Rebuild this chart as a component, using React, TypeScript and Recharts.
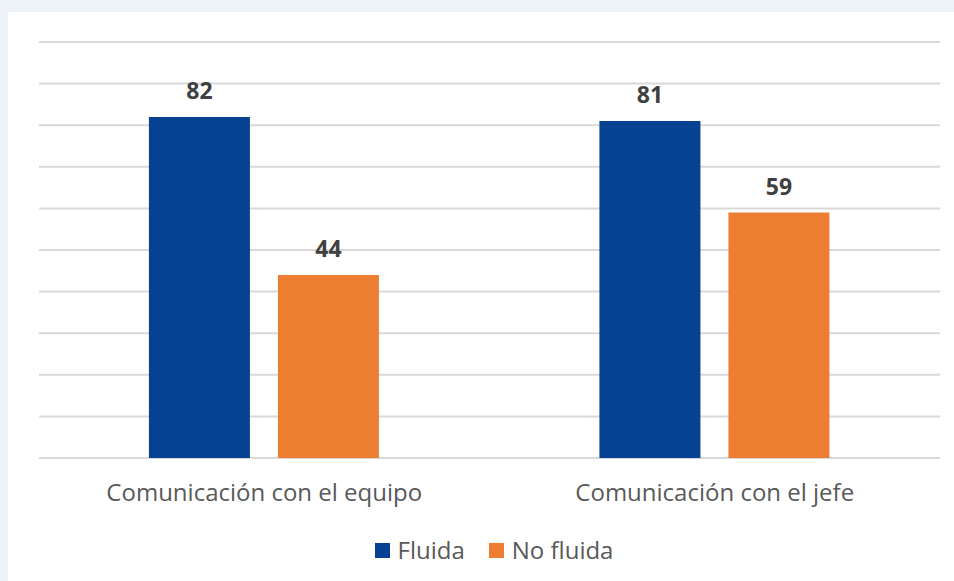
import { BarChart, Bar, XAxis, YAxis, CartesianGrid, Legend, LabelList } from "recharts"

const categories = ["Comunicación con el equipo", "Comunicación con el jefe"]
const fluida = [82, 81]
const noFluida = [44, 59]
const yTicks = [0, 10, 20, 30, 40, 50, 60, 70, 80, 90, 100]

const data = categories.map((name, i) => ({ name, fluida: fluida[i], noFluida: noFluida[i] }))

const BLUE = "#074191"
const ORANGE = "#ED7D31"
const FONT = "'Open Sans', sans-serif"

function LegendContent(props: any) {
  const items = props.payload || []
  return (
    <div style={{ display: "flex", justifyContent: "center", alignItems: "center", paddingTop: 17, paddingLeft: 9, fontFamily: FONT, fontSize: 24, color: "#595959", lineHeight: "30px" }}>
      {items.map((it: any, i: number) => (
        <div key={i} style={{ display: "flex", alignItems: "center", marginLeft: i ? 24 : 0 }}>
          <span style={{ width: 15, height: 15, background: it.color, display: "inline-block", marginRight: 8 }} />
          <span>{it.value}</span>
        </div>
      ))}
    </div>
  )
}

export default function App() {
  return (
    <div style={{ position: "fixed", left: 0, top: 0, width: 954, height: 581, background: "#eef3fa" }}>
      <div style={{ position: "absolute", left: 8, top: 12, width: 946, height: 569, background: "#ffffff" }} />
      <div style={{ position: "absolute", left: 0, top: 0 }}>
        <BarChart
          width={954}
          height={581}
          data={data}
          margin={{ top: 42, right: 14, left: 39, bottom: 10 }}
          barCategoryGap="24.4%"
          barGap={28}
        >
          <CartesianGrid vertical={false} stroke="#d9d9d9" strokeWidth={2} />
          <XAxis
            dataKey="name"
            axisLine={false}
            tickLine={false}
            tickSize={0}
            tickMargin={26}
            height={60}
            tick={{ fill: "#595959", fontSize: 24, fontFamily: FONT }}
          />
          <YAxis hide domain={[0, 100]} ticks={yTicks} />
          <Legend height={53} verticalAlign="bottom" content={<LegendContent />} />
          <Bar dataKey="fluida" name="Fluida" fill={BLUE} isAnimationActive={false}>
            <LabelList dataKey="fluida" position="top" offset={18} fill="#404040" fontSize={23} fontWeight="bold" fontFamily={FONT} />
          </Bar>
          <Bar dataKey="noFluida" name="No fluida" fill={ORANGE} isAnimationActive={false}>
            <LabelList dataKey="noFluida" position="top" offset={18} fill="#404040" fontSize={23} fontWeight="bold" fontFamily={FONT} />
          </Bar>
        </BarChart>
      </div>
    </div>
  )
}
